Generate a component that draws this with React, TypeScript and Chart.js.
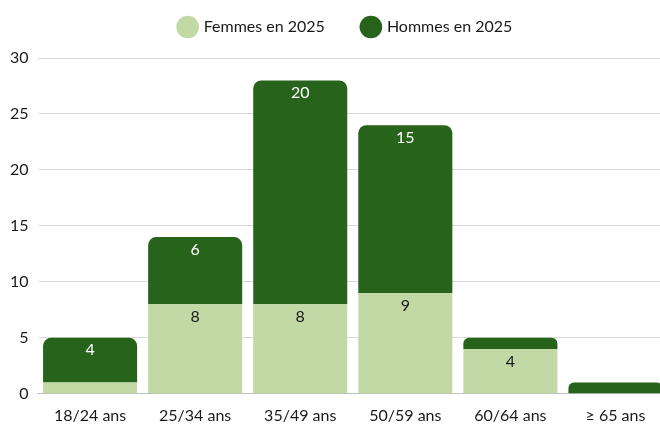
import React, { useEffect, useRef } from "react";
import { Chart, registerables } from "chart.js";

Chart.register(...registerables);

const categories = ["18/24 ans", "25/34 ans", "35/49 ans", "50/59 ans", "60/64 ans", "≥ 65 ans"];
const femmes = [1, 8, 8, 9, 4, 0];
const hommes = [4, 6, 20, 15, 1, 1];
const yTicks = [0, 5, 10, 15, 20, 25, 30];

const FONT = "Lato, 'Open Sans', sans-serif";

const labelPlugin = {
  id: "barLabels",
  afterDatasetsDraw(chart: any) {
    const ctx = chart.ctx;
    ctx.save();
    ctx.font = `16px ${FONT}`;
    ctx.textAlign = "center";
    ctx.textBaseline = "middle";
    chart.data.datasets.forEach((ds: any, di: number) => {
      const meta = chart.getDatasetMeta(di);
      meta.data.forEach((el: any, i: number) => {
        const v = ds.data[i];
        if (v < 2) return;
        ctx.fillStyle = di === 0 ? "#1a1a1a" : "#ffffff";
        ctx.fillText(String(v), el.x, el.y + 12.5);
      });
    });
    ctx.restore();
  },
};

const legendFitPlugin = {
  id: "legendFit",
  beforeInit(chart: any) {
    const legend = chart.legend;
    if (!legend) return;
    const origFit = legend.fit;
    legend.fit = function () {
      origFit.call(this);
      this.height = 58;
    };
    const origDraw = legend.draw;
    legend.draw = function (...args: any[]) {
      const ctx = this.ctx;
      ctx.save();
      ctx.translate(11.5, -19);
      origDraw.apply(this, args);
      ctx.restore();
    };
  },
};

export default function App() {
  const ref = useRef<HTMLCanvasElement>(null);
  useEffect(() => {
    document.body.style.margin = "0";
    document.body.style.overflow = "hidden";
    const chart = new Chart(ref.current!, {
      type: "bar",
      data: {
        labels: categories,
        datasets: [
          {
            label: "Femmes en 2025",
            data: femmes,
            backgroundColor: "#c2d9a5",
            borderWidth: 0,
            barPercentage: 0.895,
            categoryPercentage: 1,
          },
          {
            label: "Hommes en 2025",
            data: hommes,
            backgroundColor: "#27631a",
            borderWidth: 0,
            borderRadius: { topLeft: 8, topRight: 8, bottomLeft: 0, bottomRight: 0 },
            borderSkipped: false,
            barPercentage: 0.895,
            categoryPercentage: 1,
          },
        ],
      },
      options: {
        animation: false,
        responsive: false,
        maintainAspectRatio: false,
        layout: { padding: { left: 1, right: 0, top: 0, bottom: -10 } },
        plugins: {
          legend: {
            position: "top",
            labels: {
              usePointStyle: true,
              pointStyle: "circle",
              boxWidth: 18,
              boxHeight: 18,
              padding: 38,
              color: "#1a1a1a",
              font: { family: FONT, size: 16 },
            },
          },
          tooltip: { enabled: false },
        },
        scales: {
          x: {
            stacked: true,
            grid: { display: false, drawTicks: false },
            border: { color: "#bfbfbf" },
            ticks: { color: "#1a1a1a", font: { family: FONT, size: 16 }, padding: 12 },
          },
          y: {
            stacked: true,
            min: 0,
            max: 30,
            afterBuildTicks: (axis: any) => {
              axis.ticks = yTicks.map((v) => ({ value: v }));
            },
            grid: { color: "#d9d9d9", drawTicks: false },
            border: { display: false },
            ticks: { color: "#1a1a1a", font: { family: FONT, size: 16 }, padding: 9 },
          },
        },
      },
      plugins: [labelPlugin, legendFitPlugin],
    });
    return () => chart.destroy();
  }, []);
  return (
    <div style={{ width: 660, height: 427, overflow: "hidden", position: "relative" }}>
      <canvas ref={ref} width={668} height={427} style={{ display: "block", width: 668, height: 427 }} />
    </div>
  );
}
